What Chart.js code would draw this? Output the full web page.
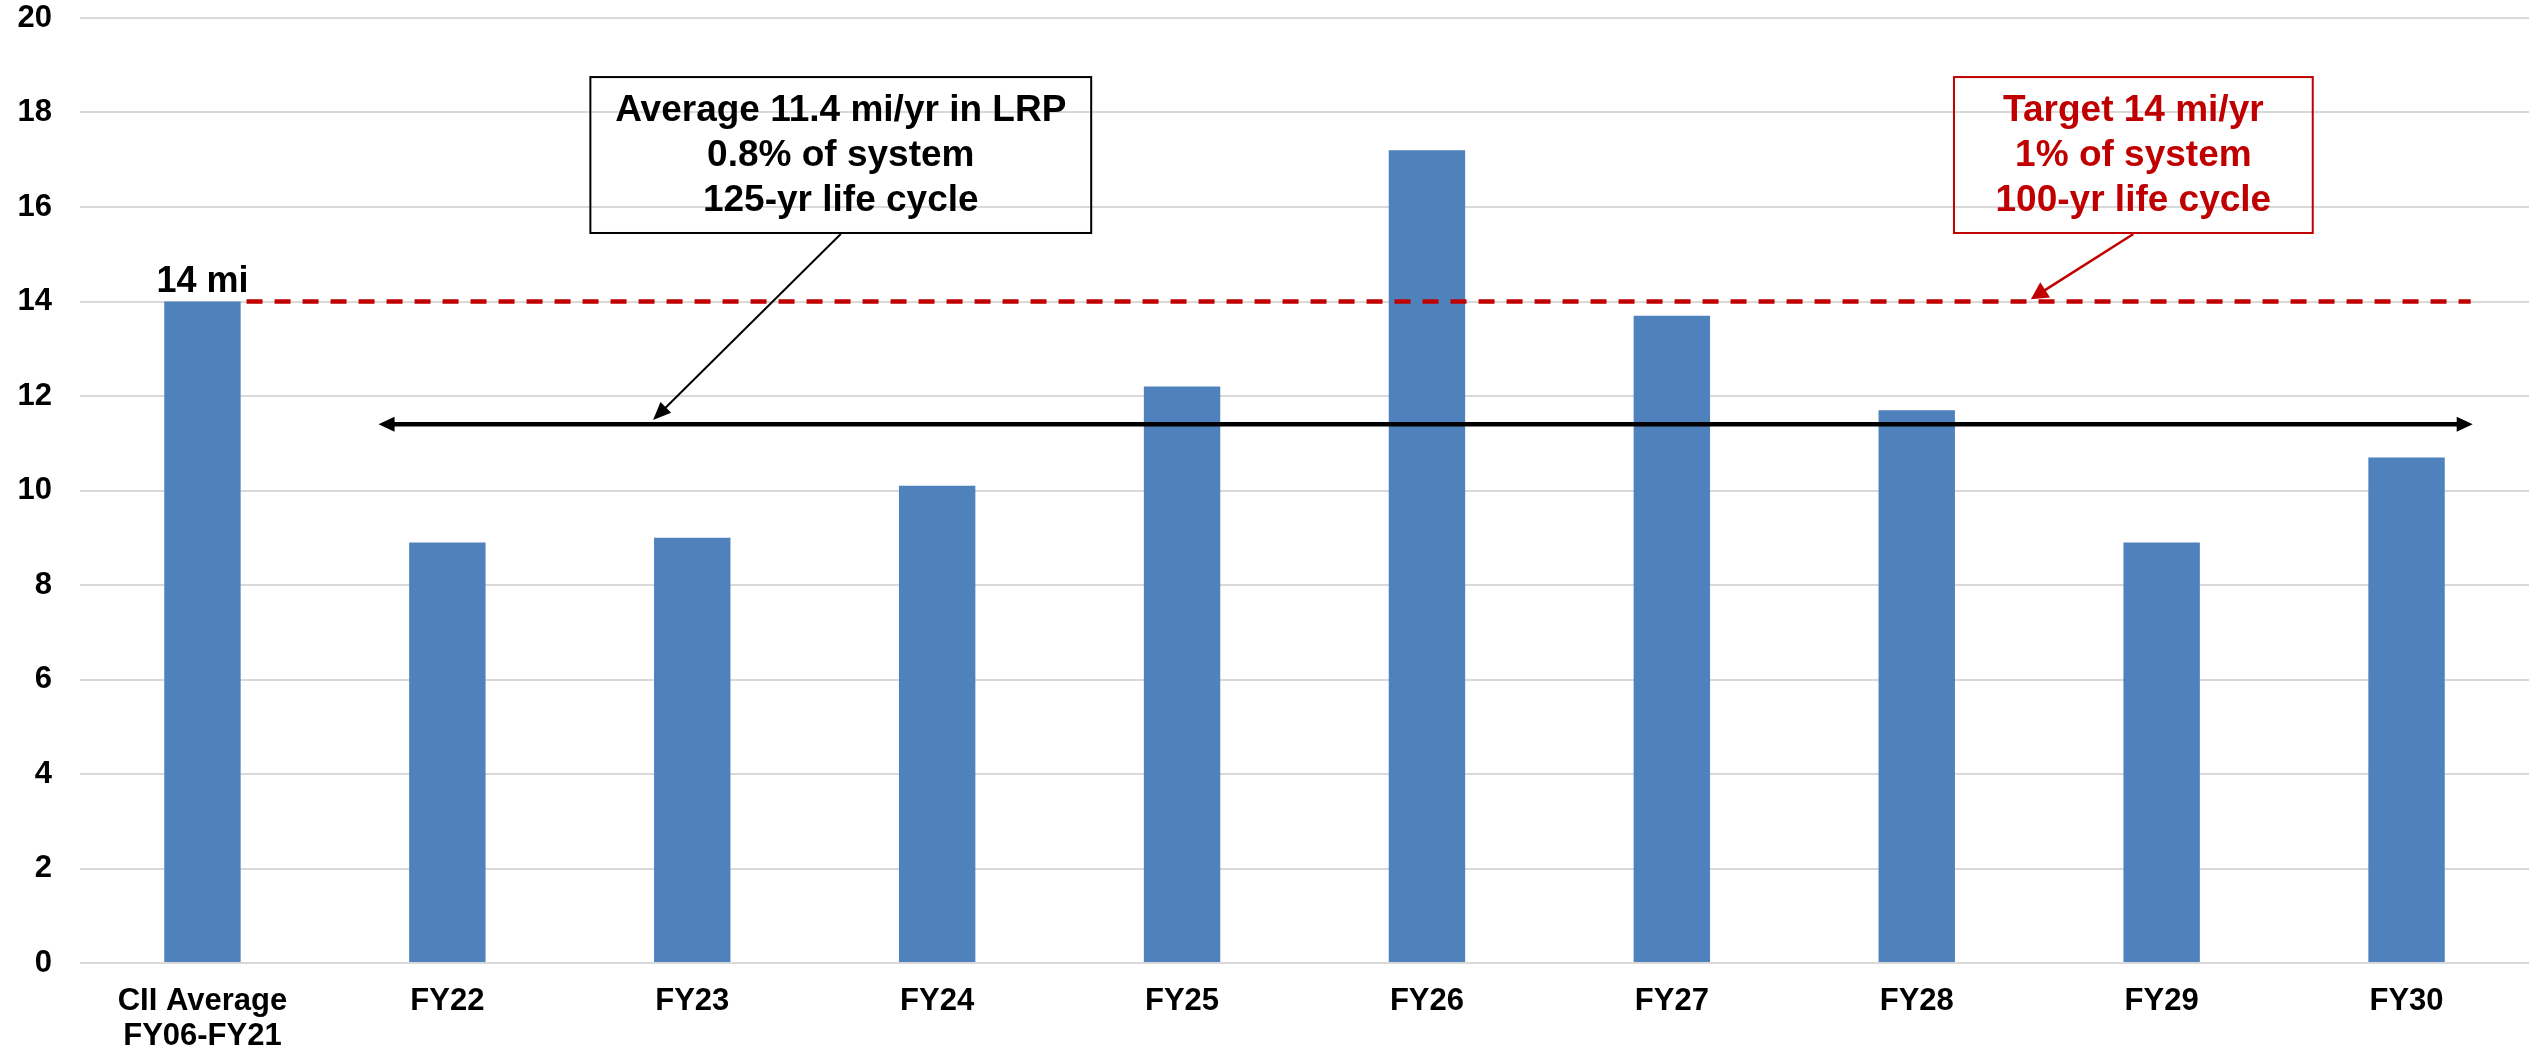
<!DOCTYPE html>
<html><head><meta charset="utf-8">
<script src="https://cdn.jsdelivr.net/npm/chart.js@4.4.1/dist/chart.umd.min.js"></script>
<style>html,body{margin:0;padding:0;background:#fff;overflow:hidden}canvas{display:block}</style>
</head><body>
<canvas id="c" width="2529" height="1053"></canvas>
<script>
// ---- data ----
const categories = [['CII Average', 'FY06-FY21'], 'FY22', 'FY23', 'FY24', 'FY25', 'FY26', 'FY27', 'FY28', 'FY29', 'FY30'];
const milesReplaced = [14, 8.9, 9.0, 10.1, 12.2, 17.2, 13.7, 11.7, 8.9, 10.7];
const barLabels = ['14 mi', '', '', '', '', '', '', '', '', ''];
const yTickValues = [0, 2, 4, 6, 8, 10, 12, 14, 16, 18, 20];
const averageValue = 11.4;
const targetValue = 14;
const averageText = ['Average 11.4 mi/yr in LRP', '0.8% of system', '125-yr life cycle'];
const targetText = ['Target 14 mi/yr', '1% of system', '100-yr life cycle'];

// ---- annotation placement (in category-index / value units) ----
const placement = {
  avgLine: { from: 0.719, to: 9.27 },
  targetLine: { from: 0.18, to: 9.262 },
  avgBox: { x0: 1.584, x1: 3.629, top: 18.75, bottom: 15.45, tipX: 1.84, tipY: 11.49, head: [18, 7.5], lw: 2 },
  targetBox: { x0: 7.152, x1: 8.617, top: 18.75, bottom: 15.45, tipX: 7.466, tipY: 14.05, head: [17, 9], lw: 2.5 }
};

const FONT = 'Arial, "Liberation Sans", sans-serif';
const RED = '#C00000';

function arrowHead(ctx, fx, fy, tx, ty, len, half, color) {
  const a = Math.atan2(ty - fy, tx - fx);
  ctx.save();
  ctx.fillStyle = color;
  ctx.beginPath();
  ctx.moveTo(tx, ty);
  ctx.lineTo(tx - len * Math.cos(a) + half * Math.sin(a), ty - len * Math.sin(a) - half * Math.cos(a));
  ctx.lineTo(tx - len * Math.cos(a) - half * Math.sin(a), ty - len * Math.sin(a) + half * Math.cos(a));
  ctx.closePath();
  ctx.fill();
  ctx.restore();
}

function drawBox(ctx, x, y, spec, lines, color) {
  const l = x.getPixelForValue(spec.x0), r = x.getPixelForValue(spec.x1);
  const t = y.getPixelForValue(spec.top), b = y.getPixelForValue(spec.bottom);
  ctx.save();
  ctx.strokeStyle = color;
  ctx.lineWidth = 2;
  ctx.strokeRect(l, t, r - l, b - t);
  ctx.fillStyle = color;
  ctx.font = 'bold 37px ' + FONT;
  ctx.textAlign = 'center';
  ctx.textBaseline = 'middle';
  const cx = (l + r) / 2, cy = (t + b) / 2;
  const lh = 45;
  lines.forEach((s, i) => ctx.fillText(s, cx, cy + (i - (lines.length - 1) / 2) * lh + 1));
  // leader
  const tx = x.getPixelForValue(spec.tipX), ty = y.getPixelForValue(spec.tipY);
  const a = Math.atan2(ty - b, tx - cx);
  ctx.lineWidth = spec.lw;
  ctx.beginPath();
  ctx.moveTo(cx, b + 1);
  ctx.lineTo(tx - (spec.head[0] - 4) * Math.cos(a), ty - (spec.head[0] - 4) * Math.sin(a));
  ctx.stroke();
  arrowHead(ctx, cx, b, tx, ty, spec.head[0], spec.head[1], color);
  ctx.restore();
}

const annotations = {
  id: 'annotations',
  afterDatasetsDraw(chart) {
    const { ctx, scales: { x, y } } = chart;
    // bar value labels
    const meta = chart.getDatasetMeta(0);
    ctx.save();
    ctx.font = 'bold 36px ' + FONT;
    ctx.fillStyle = '#000';
    ctx.textAlign = 'center';
    ctx.textBaseline = 'alphabetic';
    meta.data.forEach((bar, i) => {
      if (barLabels[i]) ctx.fillText(barLabels[i], bar.x, bar.y - 10);
    });
    ctx.restore();

    // target dashed line
    const ty = y.getPixelForValue(targetValue);
    ctx.save();
    ctx.strokeStyle = RED;
    ctx.lineWidth = 4.7;
    ctx.setLineDash([16, 12]);
    ctx.beginPath();
    ctx.moveTo(x.getPixelForValue(placement.targetLine.from), ty);
    ctx.lineTo(x.getPixelForValue(placement.targetLine.to), ty);
    ctx.stroke();
    ctx.restore();

    // average double arrow
    const ay = y.getPixelForValue(averageValue);
    const ax0 = x.getPixelForValue(placement.avgLine.from), ax1 = x.getPixelForValue(placement.avgLine.to);
    ctx.save();
    ctx.strokeStyle = '#000';
    ctx.lineWidth = 4.5;
    ctx.beginPath();
    ctx.moveTo(ax0 + 12, ay);
    ctx.lineTo(ax1 - 12, ay);
    ctx.stroke();
    arrowHead(ctx, ax1, ay, ax0, ay, 16, 7.5, '#000');
    arrowHead(ctx, ax0, ay, ax1, ay, 16, 7.5, '#000');
    ctx.restore();

    drawBox(ctx, x, y, placement.avgBox, averageText, '#000');
    drawBox(ctx, x, y, placement.targetBox, targetText, RED);
  }
};

new Chart(document.getElementById('c'), {
  type: 'bar',
  data: {
    labels: categories,
    datasets: [{
      data: milesReplaced,
      backgroundColor: '#4F81BD',
      borderWidth: 0,
      barPercentage: 0.312,
      categoryPercentage: 1.0
    }]
  },
  options: {
    responsive: false,
    devicePixelRatio: 1,
    animation: false,
    layout: { padding: { top: 18, right: 0, left: 0, bottom: 0 } },
    plugins: { legend: { display: false }, tooltip: { enabled: false }, title: { display: false } },
    scales: {
      x: {
        offset: true,
        grid: { display: false, drawTicks: false },
        border: { display: false },
        ticks: {
          color: '#000',
          font: { family: FONT, size: 31, weight: 'bold', lineHeight: 1.13 },
          padding: 21,
          maxRotation: 0,
          autoSkip: false
        },
        afterFit(s) { s.height = 90; s.paddingLeft = 0; s.paddingRight = 0; }
      },
      y: {
        min: 0,
        max: 20,
        grid: { color: '#D9D9D9', lineWidth: 2, drawTicks: false },
        border: { display: false },
        ticks: {
          color: '#000',
          font: { family: FONT, size: 31, weight: 'bold', lineHeight: 1.0 },
          padding: 28
        },
        afterBuildTicks(s) { s.ticks = yTickValues.map(v => ({ value: v })); },
        afterFit(s) { s.width = 80; s.paddingTop = 0; s.paddingBottom = 0; }
      }
    }
  },
  plugins: [annotations]
});
</script>
</body></html>
